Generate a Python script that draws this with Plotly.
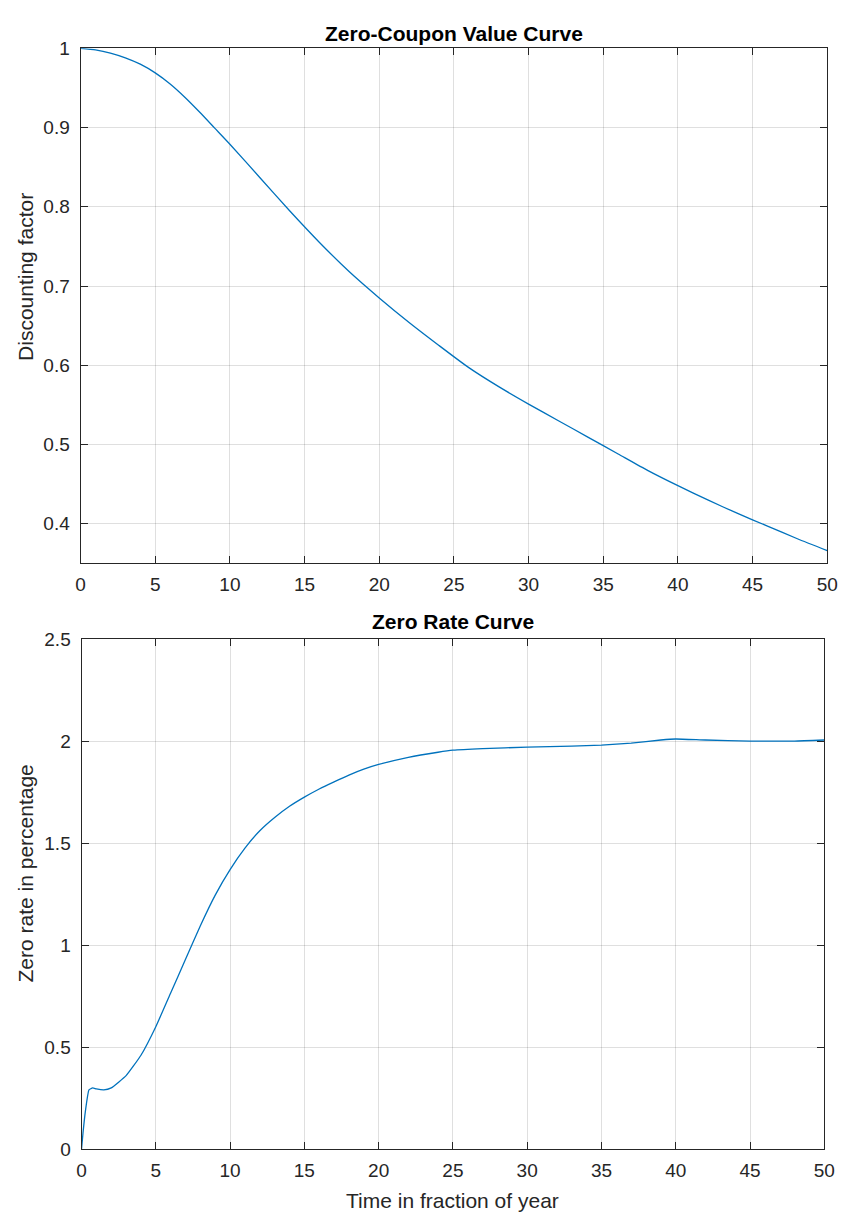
import plotly.graph_objects as go

# Data
t_df = [0, 1, 2, 3, 4, 5, 6, 7, 8, 9, 10, 12, 14, 16, 18, 20, 22, 24, 26, 28, 30, 32, 34, 36, 38, 40, 42, 44, 46, 48, 50]
df_vals = [1.0, 0.998, 0.994, 0.988, 0.980, 0.969, 0.955, 0.938, 0.919, 0.899, 0.879, 0.837, 0.795, 0.755, 0.718, 0.685, 0.654, 0.625, 0.597, 0.573, 0.551, 0.530, 0.509, 0.488, 0.467, 0.448, 0.430, 0.413, 0.397, 0.381, 0.366]

t_zr = [0, 0.1, 0.25, 0.5, 0.75, 1, 1.5, 2, 3, 4, 5, 6, 7, 8, 9, 10, 11, 12, 13, 14, 15, 16, 17, 18, 19, 20, 22, 24, 25, 27, 30, 33, 35, 37, 39, 40, 42, 45, 48, 50]
zr_vals = [0, 0.08, 0.18, 0.29, 0.30, 0.295, 0.29, 0.30, 0.36, 0.46, 0.60, 0.765, 0.93, 1.095, 1.245, 1.37, 1.475, 1.56, 1.625, 1.68, 1.725, 1.765, 1.80, 1.833, 1.862, 1.885, 1.92, 1.945, 1.955, 1.963, 1.97, 1.975, 1.98, 1.99, 2.005, 2.01, 2.005, 2.0, 2.0, 2.005]

x_ticks = list(range(0, 51, 5))

W, H = 850, 1223
LINE = "#0072BD"
AX = "#262626"
GRID = "rgba(38,38,38,0.15)"
FONT = "Liberation Sans, Arial, Helvetica, sans-serif"

fig = go.Figure()
fig.add_trace(go.Scatter(x=t_df, y=df_vals, mode="lines", line=dict(color=LINE, width=1.3, shape="spline", smoothing=0.6), xaxis="x", yaxis="y", showlegend=False))
fig.add_trace(go.Scatter(x=t_zr, y=zr_vals, mode="lines", line=dict(color=LINE, width=1.3, shape="spline", smoothing=0.4), xaxis="x2", yaxis="y2", showlegend=False))

def xax(domain, anchor):
    return dict(domain=domain, anchor=anchor, range=[0, 50], tickvals=x_ticks, ticks="inside", ticklen=7,
                tickcolor=AX, showline=True, linecolor=AX, linewidth=1, mirror="ticks", showgrid=True,
                gridcolor=GRID, gridwidth=1, zeroline=False, tickfont=dict(size=19, color=AX, family=FONT),
                ticklabelstandoff=4, fixedrange=True)

def yax(domain, anchor, rng, dtick):
    return dict(domain=domain, anchor=anchor, range=rng, dtick=dtick, tick0=0, ticks="inside", ticklen=7,
                tickcolor=AX, showline=True, linecolor=AX, linewidth=1, mirror="ticks", showgrid=True,
                gridcolor=GRID, gridwidth=1, zeroline=False, tickfont=dict(size=19, color=AX, family=FONT),
                ticklabelstandoff=6, fixedrange=True)

fig.update_layout(
    width=W, height=H, margin=dict(l=0, r=0, t=0, b=0),
    paper_bgcolor="white", plot_bgcolor="white",
    font=dict(family=FONT, color=AX),
    xaxis=xax([77 / W, 838 / W], "y"),
    yaxis=yax([1 - 563 / H, 1 - 39 / H], "x", [0.35, 1.0], 0.1),
    xaxis2=xax([78 / W, 835 / W], "y2"),
    yaxis2=yax([1 - 1159 / H, 1 - 640 / H], "x2", [0, 2.5], 0.5),
)

annotations = [
    dict(text="<b>Zero-Coupon Value Curve</b>", x=(77 + 838) / 2 / W, y=1 - 24 / H, xref="paper", yref="paper",
         showarrow=False, font=dict(size=21, color="black", family=FONT), xanchor="center", yanchor="middle"),
    dict(text="<b>Zero Rate Curve</b>", x=(78 + 835) / 2 / W, y=1 - 622 / H, xref="paper", yref="paper",
         showarrow=False, font=dict(size=21, color="black", family=FONT), xanchor="center", yanchor="middle"),
    dict(text="Discounting factor", x=21 / W, y=1 - 272 / H, xref="paper", yref="paper", textangle=-90,
         showarrow=False, font=dict(size=21, color=AX, family=FONT), xanchor="center", yanchor="middle"),
    dict(text="Zero rate in percentage", x=21 / W, y=1 - 879 / H, xref="paper", yref="paper", textangle=-90,
         showarrow=False, font=dict(size=21, color=AX, family=FONT), xanchor="center", yanchor="middle"),
    dict(text="Time in fraction of year", x=(78 + 835) / 2 / W, y=1 - 1211 / H, xref="paper", yref="paper",
         showarrow=False, font=dict(size=21, color=AX, family=FONT), xanchor="center", yanchor="middle"),
]
fig.update_layout(annotations=annotations)

fig.write_html("out.html", config={"displayModeBar": False},
               post_script="document.body.style.margin='0';document.body.style.overflow='hidden';")
